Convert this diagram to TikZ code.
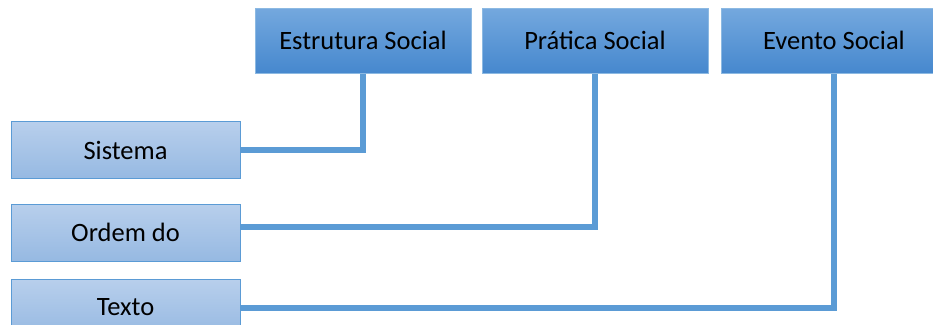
\documentclass[tikz,border=0pt]{standalone}
\usepackage{fontspec}
\setmainfont{Carlito}
\usetikzlibrary{positioning}
\definecolor{officeblue}{RGB}{91,155,213}
\definecolor{topboxtop}{RGB}{116,168,222}
\definecolor{topboxbot}{RGB}{70,136,206}
\definecolor{leftboxtop}{RGB}{184,207,236}
\definecolor{leftboxbot}{RGB}{150,185,226}
\tikzset{
    levelbox/.style={draw=officeblue!70, line width=1pt, top color=topboxtop, bottom color=topboxbot,
        minimum width=226pt, minimum height=65pt, inner sep=0pt, font=\fontsize{26.5}{30}\selectfont},
    layerbox/.style={draw=officeblue, line width=1pt, top color=leftboxtop, bottom color=leftboxbot,
        minimum width=229pt, minimum height=57pt, inner sep=0pt, font=\fontsize{26.5}{30}\selectfont},
    link/.style={draw=officeblue, line width=6pt}
}
\begin{document}
\begin{tikzpicture}[x=1pt, y=-1pt]
    \useasboundingbox (0,0) rectangle (933,324);

    % Social levels (top row)
    \node[levelbox, minimum width=216pt] (estrutura) at (363,40.5) {Estrutura Social};
    \node[levelbox] (pratica) at (595,40.5) {Prática Social};
    \node[levelbox] (evento) at (834,40.5) {Evento Social};

    % Language layers (left column)
    \node[layerbox] (sistema) at (125.5,150) {Sistema};
    \node[layerbox] (ordem) at (125.5,232.5) {Ordem do};
    \node[layerbox] (texto) at (125.5,307.5) {Texto};

    % Connectors
    \draw[link] (estrutura.south) |- (sistema.east);
    \draw[link] (pratica.south) |- ([yshift=6pt]ordem.east);
    \draw[link] (evento.south) |- (texto.east);
\end{tikzpicture}
\end{document}
